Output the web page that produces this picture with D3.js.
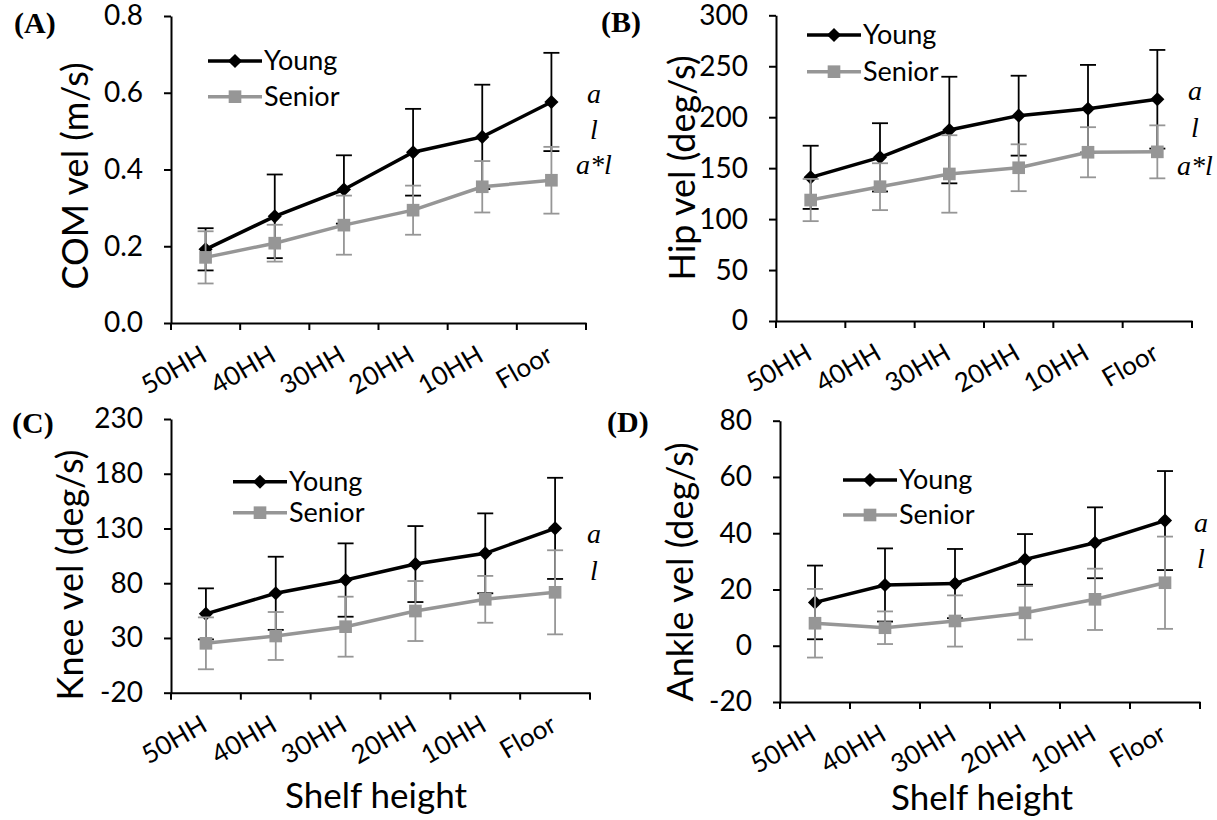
<!DOCTYPE html>
<html>
<head>
<meta charset="utf-8">
<script src="https://cdn.jsdelivr.net/npm/d3@7"></script>
<style>
  body { margin: 0; background: #fff; }
  text { font-family: Lato, "Open Sans", sans-serif; fill: #000; }
</style>
</head>
<body>
<svg width="1217" height="820"></svg>
<script>
// Shelf heights (x categories)
const categories = ["50HH", "40HH", "30HH", "20HH", "10HH", "Floor"];

// (A) COM velocity, m/s
const comYoung = [0.192, 0.278, 0.348, 0.445, 0.485, 0.576];
const comYoungSD = [0.055, 0.109, 0.089, 0.113, 0.136, 0.128];
const comSenior = [0.171, 0.208, 0.255, 0.294, 0.355, 0.372];
const comSeniorSD = [0.068, 0.048, 0.077, 0.064, 0.067, 0.087];
const comTicks = [0, 0.2, 0.4, 0.6, 0.8];

// (B) Hip velocity, deg/s
const hipYoung = [141, 160.6, 187.4, 201.5, 208.3, 217.6];
const hipYoungSD = [31, 33.5, 52.3, 39.2, 43, 48.4];
const hipSenior = [118.7, 131.8, 144.3, 150.4, 165.6, 166];
const hipSeniorSD = [20.7, 23, 38, 23, 24.6, 26];
const hipTicks = [0, 50, 100, 150, 200, 250, 300];

// (C) Knee velocity, deg/s
const kneeYoung = [52, 70.8, 82.9, 97.5, 107.3, 130.1];
const kneeYoungSD = [23.3, 33.4, 33.5, 34.7, 36.5, 46.2];
const kneeSenior = [25.1, 31.8, 40.3, 54.6, 65.3, 71.7];
const kneeSeniorSD = [23.7, 21.9, 27.4, 27.4, 21.4, 38.4];
const kneeTicks = [-20, 30, 80, 130, 180, 230];

// (D) Ankle velocity, deg/s
const ankleYoung = [15.4, 21.6, 22.1, 30.7, 36.6, 44.5];
const ankleYoungSD = [13.1, 13, 12.3, 9, 12.6, 17.6];
const ankleSenior = [8, 6.4, 8.8, 11.7, 16.5, 22.4];
const ankleSeniorSD = [12.2, 5.8, 9.1, 9.5, 10.9, 16.4];
const ankleTicks = [-20, 0, 20, 40, 60, 80];

const seriesNames = ["Young", "Senior"];
const YOUNG = "#000000", SENIOR = "#969696";

const svg = d3.select("svg");
svg.append("rect").attr("width", 1217).attr("height", 820).attr("fill", "#fff");

// plain hyphen for negatives, like the original (d3 uses a unicode minus)
const intFmt = (d) => String(d);

const panels = [
  { tag: "(A)", title: "COM vel (m/s)", ticks: comTicks, fmt: d3.format(".1f"),
    young: comYoung, youngSD: comYoungSD, senior: comSenior, seniorSD: comSeniorSD,
    x0: 171, x1: 586, yTop: 16, yBot: 323, titleX: 88, titleY: 176, tagX: 14, tagY: 33,
    legX: 208, legY: [61, 96.7], notes: ["a", "l", "a*l"], noteX: 594, noteY: [103, 139, 174], xTitle: false },
  { tag: "(B)", title: "Hip vel (deg/s)", ticks: hipTicks, fmt: intFmt,
    young: hipYoung, youngSD: hipYoungSD, senior: hipSenior, seniorSD: hipSeniorSD,
    x0: 776, x1: 1192, yTop: 15.3, yBot: 321, titleX: 695, titleY: 168, tagX: 601, tagY: 32,
    legX: 807, legY: [35, 71.7], notes: ["a", "l", "a*l"], noteX: 1195, noteY: [100, 137, 175], xTitle: false },
  { tag: "(C)", title: "Knee vel (deg/s)", ticks: kneeTicks, fmt: intFmt,
    young: kneeYoung, youngSD: kneeYoungSD, senior: kneeSenior, seniorSD: kneeSeniorSD,
    x0: 171, x1: 590, yTop: 419, yBot: 692.7, titleX: 83, titleY: 575, tagX: 12, tagY: 433,
    legX: 233, legY: [481.7, 512.7], notes: ["a", "l"], noteX: 594, noteY: [543, 580], xTitle: true, xTitleX: 376, xTitleY: 808 },
  { tag: "(D)", title: "Ankle vel (deg/s)", ticks: ankleTicks, fmt: intFmt,
    young: ankleYoung, youngSD: ankleYoungSD, senior: ankleSenior, seniorSD: ankleSeniorSD,
    x0: 780, x1: 1200, yTop: 420.7, yBot: 702, titleX: 693, titleY: 572, tagX: 607, tagY: 432,
    legX: 843, legY: [480, 515], notes: ["a", "l"], noteX: 1201, noteY: [532, 568], xTitle: true, xTitleX: 982, xTitleY: 810 }
];

const diamond = d3.symbol().type(d3.symbolSquare).size(100);
const square = d3.symbol().type(d3.symbolSquare).size(160);

function drawSeries(g, x, y, vals, sds, color, isYoung) {
  const cx = (i) => x(categories[i]) + x.bandwidth() / 2;
  // error bars
  const eb = g.append("g").attr("stroke", color).attr("stroke-width", 1.8).attr("fill", "none");
  vals.forEach((v, i) => {
    const lo = y(v - sds[i]), hi = y(v + sds[i]);
    eb.append("line").attr("x1", cx(i)).attr("x2", cx(i)).attr("y1", lo).attr("y2", hi);
    eb.append("line").attr("x1", cx(i) - 8).attr("x2", cx(i) + 8).attr("y1", lo).attr("y2", lo);
    eb.append("line").attr("x1", cx(i) - 8).attr("x2", cx(i) + 8).attr("y1", hi).attr("y2", hi);
  });
  // line
  const line = d3.line().x((d, i) => cx(i)).y((d) => y(d));
  g.append("path").datum(vals).attr("fill", "none").attr("stroke", color)
    .attr("stroke-width", 3.5).attr("d", line);
  // markers
  g.selectAll(null).data(vals).enter().append("path")
    .attr("transform", (d, i) => `translate(${cx(i)},${y(d)})` + (isYoung ? " rotate(45)" : ""))
    .attr("d", isYoung ? diamond : square)
    .attr("fill", color);
}

function drawPanel(p) {
  const x = d3.scaleBand().domain(categories).range([p.x0, p.x1]);
  const y = d3.scaleLinear().domain([p.ticks[0], p.ticks[p.ticks.length - 1]]).range([p.yBot, p.yTop]);
  const g = svg.append("g");

  // y axis
  const ya = g.append("g").attr("transform", `translate(${p.x0},0)`)
    .call(d3.axisLeft(y).tickValues(p.ticks).tickFormat(p.fmt).tickSize(7).tickSizeOuter(0).tickPadding(21));
  ya.selectAll("path, line").attr("stroke", "#000").attr("stroke-width", 2);
  ya.selectAll("text").attr("font-size", 28).attr("font-family", "Lato, sans-serif");

  // x axis (labels between tick marks)
  const xa = g.append("g").attr("transform", `translate(0,${p.yBot})`)
    .call(d3.axisBottom(x).tickSize(0).tickSizeOuter(0));
  xa.select(".domain").attr("stroke", "#000").attr("stroke-width", 2);
  xa.selectAll("text")
    .attr("font-size", 26).attr("font-family", "Lato, sans-serif")
    .attr("text-anchor", "end").attr("x", 3).attr("y", 37).attr("dy", 0)
    .attr("transform", "rotate(-30 3 37)");
  const bounds = d3.range(categories.length + 1).map((i) => p.x0 + i * x.step());
  xa.selectAll(".bt").data(bounds).enter().append("line")
    .attr("x1", (d) => d).attr("x2", (d) => d).attr("y1", 0).attr("y2", 7)
    .attr("stroke", "#000").attr("stroke-width", 2);

  // series
  drawSeries(g, x, y, p.young, p.youngSD, YOUNG, true);
  drawSeries(g, x, y, p.senior, p.seniorSD, SENIOR, false);

  // legend
  seriesNames.forEach((name, k) => {
    const color = k === 0 ? YOUNG : SENIOR;
    const ly = p.legY[k];
    g.append("line").attr("x1", p.legX).attr("x2", p.legX + 54).attr("y1", ly).attr("y2", ly)
      .attr("stroke", color).attr("stroke-width", 3.5);
    g.append("path").attr("transform", `translate(${p.legX + 27},${ly})` + (k === 0 ? " rotate(45)" : ""))
      .attr("d", k === 0 ? diamond : square).attr("fill", color);
    g.append("text").attr("x", p.legX + 56).attr("y", ly).attr("dy", "0.35em")
      .attr("font-size", 27).text(name);
  });

  // y title
  g.append("text").attr("transform", `translate(${p.titleX},${p.titleY}) rotate(-90)`)
    .attr("text-anchor", "middle").attr("font-size", 36).text(p.title);

  // panel tag
  g.append("text").attr("x", p.tagX).attr("y", p.tagY)
    .style("font-family", '"Liberation Serif", "Times New Roman", serif')
    .attr("font-weight", "bold").attr("font-size", 30).text(p.tag);

  // significance notes
  p.notes.forEach((n, k) => {
    g.append("text").attr("x", p.noteX).attr("y", p.noteY[k]).attr("text-anchor", "middle")
      .style("font-family", '"Liberation Serif", "Times New Roman", serif')
      .attr("font-style", "italic").attr("font-size", 28).text(n);
  });

  if (p.xTitle) {
    g.append("text").attr("x", p.xTitleX).attr("y", p.xTitleY).attr("text-anchor", "middle")
      .attr("font-size", 35).text("Shelf height");
  }
}

panels.forEach(drawPanel);
</script>
</body>
</html>
